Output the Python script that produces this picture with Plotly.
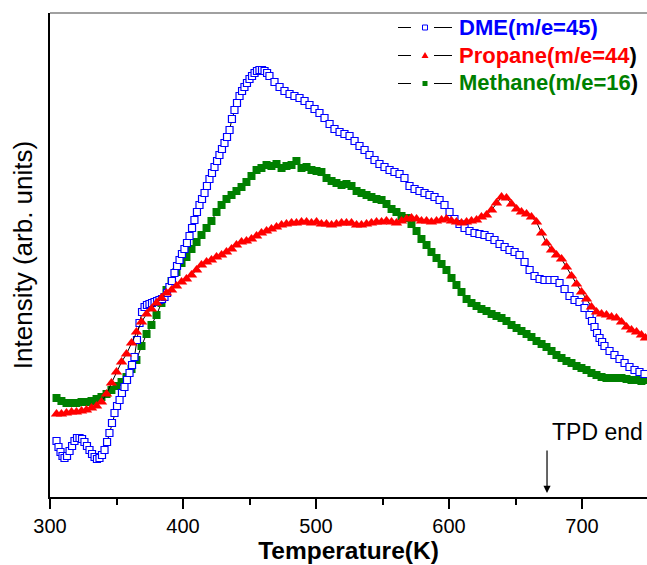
import plotly.graph_objects as go

# Temperature grid (K) shared by the propane and methane traces
temperature = [
    304.9, 308.6, 312.4, 316.2, 319.9, 323.7, 327.4, 331.2, 335.0, 338.7,
    342.5, 346.2, 350.0, 353.8, 357.5, 361.3, 365.0, 368.8, 372.6, 376.3,
    380.1, 383.8, 387.6, 391.4, 395.1, 398.9, 402.6, 406.4, 410.2, 413.9,
    417.7, 421.4, 425.2, 429.0, 432.7, 436.5, 440.2, 444.0, 447.7, 451.5,
    455.3, 459.0, 462.8, 466.5, 470.3, 474.1, 477.8, 481.6, 485.3, 489.1,
    492.9, 496.6, 500.4, 504.1, 507.9, 511.7, 515.4, 519.2, 522.9, 526.7,
    530.5, 534.2, 538.0, 541.7, 545.5, 549.3, 553.0, 556.8, 560.5, 564.3,
    568.1, 571.8, 575.6, 579.3, 583.1, 586.8, 590.6, 594.4, 598.1, 601.9,
    605.6, 609.4, 613.2, 616.9, 620.7, 624.4, 628.2, 632.0, 635.7, 639.5,
    643.2, 647.0, 650.8, 654.5, 658.3, 662.0, 665.8, 669.6, 673.3, 677.1,
    680.8, 684.6, 688.3, 692.1, 695.9, 699.6, 703.4, 707.1, 710.9, 714.7,
    718.4, 722.2, 725.9, 729.7, 733.5, 737.2, 741.0, 744.7, 747.7,
]

propane = [
    83, 83, 84, 85, 85, 86, 87, 89, 91, 95,
    103, 114, 125, 135, 143, 154, 165, 175, 183, 188,
    194, 199, 204, 207, 211, 215, 218, 222, 227, 232,
    235, 237, 240, 242, 245, 248, 252, 255, 256, 258,
    261, 264, 266, 268, 270, 272, 273, 274, 274, 275,
    275, 274, 275, 273, 273, 272, 273, 274, 274, 274,
    272, 272, 273, 274, 275, 275, 276, 275, 274, 276,
    278, 279, 278, 276, 276, 275, 276, 277, 278, 276,
    275, 274, 275, 276, 277, 280, 282, 287, 294, 300,
    299, 293, 288, 285, 283, 280, 275, 264, 254, 247,
    242, 238, 230, 221, 213, 205, 198, 190, 185, 183,
    182, 180, 179, 175, 170, 167, 165, 162, 159,
]

methane = [
    99, 96, 94, 94, 94, 95, 95, 96, 98, 100,
    103, 107, 111, 115, 120, 128, 137, 151, 163, 172,
    182, 194, 207, 216, 225, 234, 240, 248, 255, 262,
    269, 276, 285, 292, 298, 302, 306, 310, 315, 321,
    327, 329, 332, 331, 333, 329, 331, 332, 336, 329,
    330, 327, 326, 325, 319, 316, 314, 312, 313, 311,
    306, 304, 302, 300, 298, 297, 293, 288, 285, 281,
    279, 273, 266, 258, 252, 245, 239, 233, 227, 219,
    212, 205, 198, 194, 191, 188, 186, 183, 181, 179,
    176, 172, 169, 166, 163, 160, 156, 153, 150, 146,
    142, 139, 136, 134, 131, 129, 127, 124, 122, 120,
    119, 119, 119, 119, 118, 117, 117, 116, 117,
]

# DME is sampled more finely through the steep parts of the trace
temperature_dme = [
    304.9, 306.4, 307.9, 309.4, 310.9, 312.8, 314.7, 316.6, 318.4, 320.3,
    322.2, 324.1, 325.9, 327.8, 329.7, 331.6, 333.5, 335.3, 337.2, 339.1,
    341.0, 342.9, 344.7, 346.6, 348.5, 350.4, 352.3, 354.1, 356.0, 357.9,
    359.8, 361.7, 363.5, 365.4, 367.3, 369.2, 371.1, 372.9, 374.8, 376.7,
    378.6, 380.5, 382.3, 384.2, 386.1, 388.0, 389.8, 391.7, 393.6, 395.5,
    397.4, 399.2, 401.1, 403.0, 404.9, 406.8, 408.6, 410.5, 412.4, 414.3,
    416.2, 418.0, 419.9, 421.8, 423.7, 425.6, 427.4, 429.3, 431.2, 433.1,
    435.0, 436.8, 438.7, 440.6, 442.5, 444.4, 446.2, 448.1, 450.0, 451.9,
    453.8, 455.6, 457.5, 459.4, 461.3, 463.2, 465.0, 468.8, 472.6, 476.3,
    480.1, 483.8, 487.6, 491.4, 495.1, 498.9, 502.6, 506.4, 510.2, 513.9,
    517.7, 521.4, 525.2, 529.0, 532.7, 536.5, 540.2, 544.0, 547.7, 551.5,
    555.3, 559.0, 562.8, 566.5, 570.3, 574.1, 577.8, 581.6, 585.3, 589.1,
    592.9, 596.6, 600.4, 604.1, 607.9, 611.7, 615.4, 619.2, 622.9, 626.7,
    630.5, 634.2, 638.0, 641.8, 645.5, 649.3, 653.0, 656.8, 660.6, 664.3,
    668.1, 671.8, 675.6, 679.3, 683.1, 686.9, 690.6, 694.4, 698.1, 701.9,
    705.7, 707.5, 709.4, 711.3, 713.2, 715.1, 716.9, 720.7, 724.4, 728.2,
    732.0, 735.7, 739.5, 743.2, 747.0,
]

dme = [
    56, 50, 45, 41, 39, 41, 46, 51, 56, 59,
    59, 58, 55, 51, 47, 43, 40, 38, 39, 42,
    47, 55, 64, 74, 84, 91, 97, 104, 110, 117,
    124, 132, 140, 157, 174, 185, 190, 192, 193, 194,
    195, 196, 197, 198, 200, 204, 210, 216, 224, 231,
    237, 243, 248, 254, 261, 269, 277, 285, 292, 298,
    304, 311, 318, 324, 330, 336, 342, 348, 354, 360,
    367, 378, 387, 394, 401, 406, 410, 414, 418, 421,
    424, 426, 427, 427, 426, 424, 421, 415, 410, 406,
    403, 401, 399, 396, 392, 388, 384, 379, 373, 368,
    365, 363, 361, 356, 351, 347, 342, 337, 333, 330,
    327, 325, 323, 319, 311, 308, 306, 304, 302, 300,
    297, 292, 285, 278, 273, 269, 266, 264, 263, 262,
    260, 257, 253, 250, 247, 245, 242, 235, 227, 221,
    218, 217, 217, 217, 214, 208, 201, 197, 195, 189,
    182, 176, 170, 164, 159, 155, 151, 146, 142, 138,
    134, 130, 127, 125, 123,
]

series_names = ["DME(m/e=45)", "Propane(m/e=44", "Methane(m/e=16"]
series_colors = ["#0000FF", "#FF0000", "#008000"]

FONT = "Arial, Liberation Sans, sans-serif"
W, H = 647, 565
ML, MR, MT, MB = 50, 0, 13, 68
PW, PH = W - ML - MR, H - MT - MB
X_RANGE = [300, 300 + PW / 1.33]
Y_RANGE = [0, PH]

fig = go.Figure()

fig.add_trace(go.Scatter(
    x=temperature, y=methane, mode="lines+markers", name=series_names[2],
    line=dict(color="black", width=1),
    marker=dict(symbol="square", size=8, color=series_colors[2],
                line=dict(width=0)),
    showlegend=False,
))
fig.add_trace(go.Scatter(
    x=temperature_dme, y=dme, mode="lines+markers", name=series_names[0],
    line=dict(color="black", width=1),
    marker=dict(symbol="square", size=7, color="white",
                line=dict(color=series_colors[0], width=1.2)),
    showlegend=False,
))
fig.add_trace(go.Scatter(
    x=temperature, y=propane, mode="lines+markers", name=series_names[1],
    line=dict(color="black", width=1),
    marker=dict(symbol="triangle-up", size=10, color=series_colors[1],
                line=dict(width=0)),
    showlegend=False,
))


def px(x):
    return (x - ML) / PW


def py(y):
    return (H - MB - y) / PH


shapes = []
annotations = []

# Frame line along the top of the plot area
shapes.append(dict(type="line", xref="paper", yref="paper", x0=0, x1=1,
                   y0=1, y1=1, line=dict(color="#808080", width=1.5)))

# Legend drawn as dash - marker - dash followed by coloured label
rows = [27, 55, 83]
for i, (row, name, color) in enumerate(zip(rows, series_names, series_colors)):
    for a, b in [(398, 411), (434, 452)]:
        shapes.append(dict(type="line", xref="paper", yref="paper",
                           x0=px(a), x1=px(b), y0=py(row + 0.5), y1=py(row + 0.5),
                           line=dict(color="black", width=1)))
    cx, cy = px(425), py(row + 0.5)
    if i == 0:
        shapes.append(dict(type="rect", xref="paper", yref="paper",
                           xsizemode="pixel", ysizemode="pixel",
                           xanchor=cx, yanchor=cy, x0=-2.5, x1=2.5, y0=-2.5, y1=2.5,
                           fillcolor="white", line=dict(color=color, width=1)))
    elif i == 1:
        shapes.append(dict(type="path", xref="paper", yref="paper",
                           xsizemode="pixel", ysizemode="pixel",
                           xanchor=cx, yanchor=cy,
                           path="M -3.5 -2.5 L 3.5 -2.5 L 0 3.5 Z",
                           fillcolor=color, line=dict(width=0)))
    else:
        shapes.append(dict(type="rect", xref="paper", yref="paper",
                           xsizemode="pixel", ysizemode="pixel",
                           xanchor=cx, yanchor=cy, x0=-2.5, x1=2.5, y0=-2.5, y1=2.5,
                           fillcolor=color, line=dict(width=0)))
    if i == 0:
        label = f"<b><span style='color:{color}'>{name}</span></b>"
    else:
        label = f"<b><span style='color:{color}'>{name}</span>)</b>"
    annotations.append(dict(text=label, xref="paper", yref="paper",
                            x=px(457), y=py(row), xanchor="left", yanchor="middle",
                            showarrow=False, font=dict(family=FONT, size=22, color="black")))

# Marker for the end of the temperature ramp
tpd_end = 673.7
annotations.append(dict(text="", x=tpd_end, y=4, ax=tpd_end, ay=48,
                        xref="x", yref="y", axref="x", ayref="y",
                        showarrow=True, arrowhead=2, arrowsize=1.2, arrowwidth=1.2,
                        arrowcolor="black"))
annotations.append(dict(text="TPD end", x=711.5, y=65, xref="x", yref="y",
                        xanchor="center", yanchor="middle", showarrow=False,
                        font=dict(family=FONT, size=23, color="black")))

fig.update_layout(
    width=W, height=H,
    margin=dict(l=ML, r=MR, t=MT, b=MB, pad=0),
    paper_bgcolor="white", plot_bgcolor="white",
    font=dict(family=FONT, color="black"),
    shapes=shapes, annotations=annotations,
    xaxis=dict(
        range=X_RANGE, showgrid=False, zeroline=False,
        showline=True, linecolor="black", linewidth=2,
        ticks="outside", ticklen=10, tickwidth=1.5, tickcolor="black",
        tickmode="array", tickvals=[300, 400, 500, 600, 700],
        ticktext=["300", "400", "500", "600", "700"],
        tickfont=dict(family=FONT, size=20, color="black"),
        minor=dict(ticks="outside", ticklen=6, tickwidth=1.5, tickcolor="black",
                   tickvals=[350, 450, 550, 650]),
        title=dict(text="<b>Temperature(K)</b>", standoff=5,
                   font=dict(family=FONT, size=24.5, color="black")),
    ),
    yaxis=dict(
        range=Y_RANGE, showgrid=False, zeroline=False,
        showline=True, linecolor="black", linewidth=2,
        ticks="", showticklabels=False,
        title=dict(text="Intensity (arb. units)", standoff=8,
                   font=dict(family=FONT, size=26, color="black")),
    ),
)

fig.write_html("out.html")
